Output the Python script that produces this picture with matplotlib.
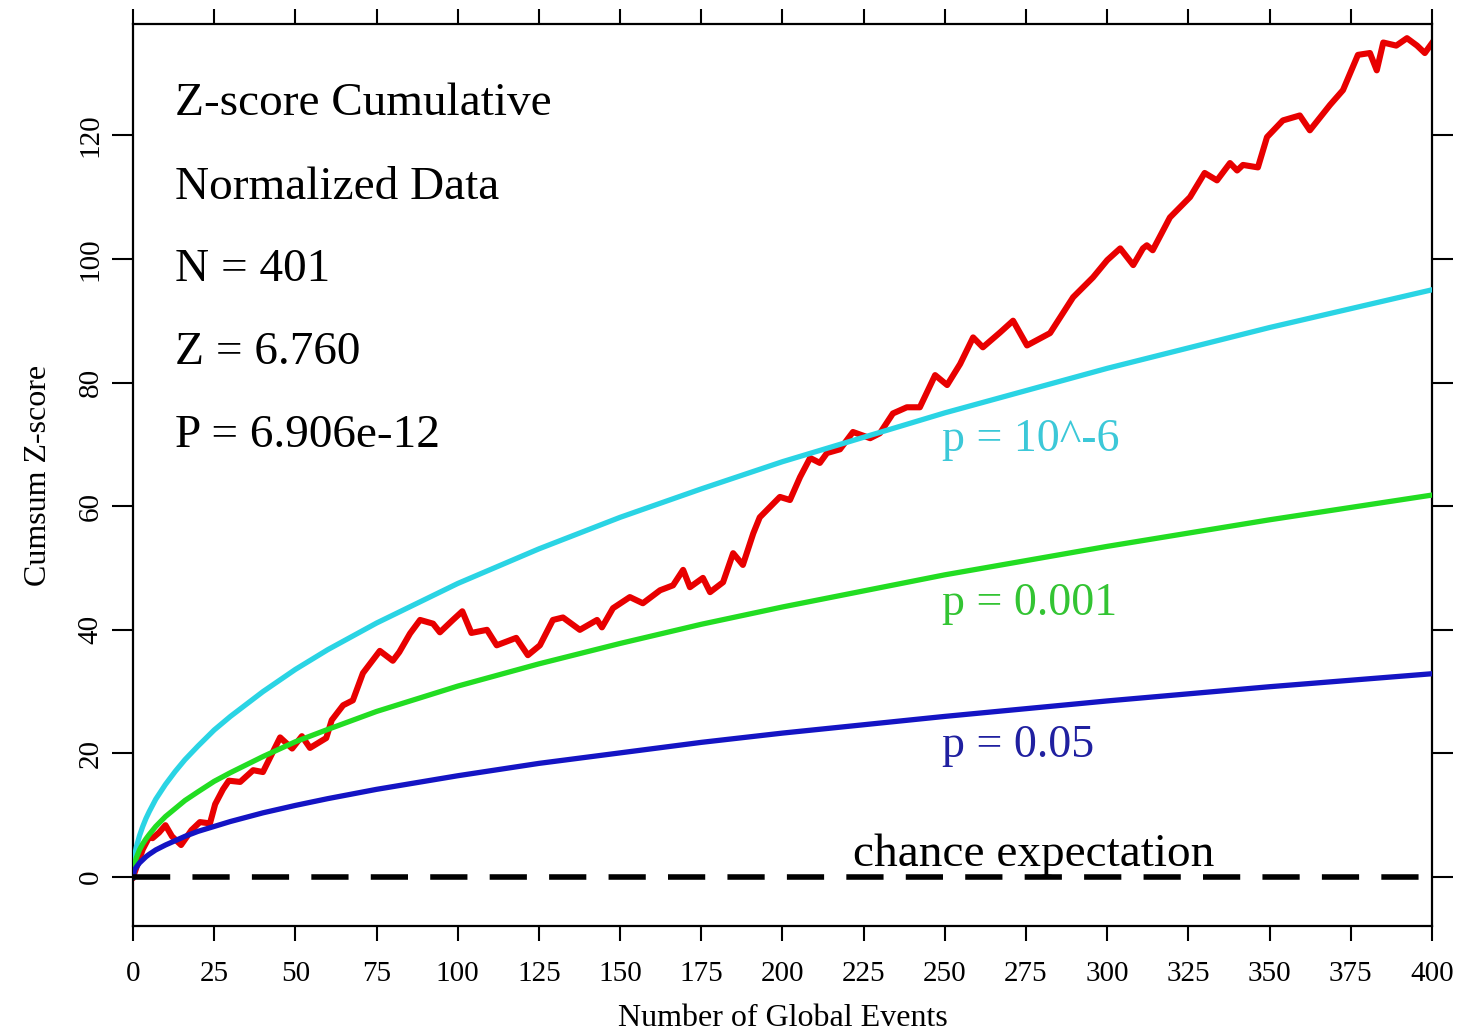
import numpy as np
import matplotlib.pyplot as plt

plt.rcParams['font.family'] = ['Liberation Serif', 'DejaVu Serif']

# cumulative z-score (red trace)
red_x = [0, 3, 5, 6, 8, 10, 12, 14.8, 18, 20.6, 23.7, 25.3, 27.7, 29.5, 33, 37, 40,
         45.3, 49, 52, 54.5, 59.5, 61.2, 64.7, 67.7, 70.8, 76, 80, 82, 85.3, 88.4,
         92.4, 94.5, 98.5, 101.4, 104.2, 109, 112, 118, 121.6, 125.3, 129.3, 132.4,
         137.6, 142.9, 144.4, 147.8, 153, 157, 162.3, 166.3, 169.4, 171.5, 175.5,
         177.7, 181.7, 184.8, 187.8, 191, 193, 199.2, 202.3, 205.4, 208.5, 211.5,
         213.7, 217.7, 221.7, 227, 230, 234, 238.3, 242.3, 247, 250.7, 254.7, 258.7,
         261.7, 267, 271, 275.3, 282.4, 289.5, 295.6, 300, 304, 308, 311, 312.2,
         314, 319.3, 325.5, 330, 333.8, 337.8, 340, 341.8, 346.4, 349.2, 354.1,
         359.3, 362.4, 368.6, 372.6, 377.2, 380.9, 383, 385, 389, 392.3, 395.4,
         397.8, 400]
red_y = [0, 4.5, 6.5, 6.3, 7.2, 8.4, 6.6, 5.2, 7.6, 8.9, 8.7, 11.8, 14.2, 15.6, 15.4,
         17.3, 17.0, 22.6, 20.8, 22.8, 20.9, 22.5, 25.4, 27.8, 28.6, 33.0, 36.6, 35.0,
         36.4, 39.4, 41.6, 41.0, 39.6, 41.6, 43.0, 39.5, 40.0, 37.5, 38.7, 35.9, 37.5,
         41.6, 42.0, 40.0, 41.6, 40.4, 43.5, 45.3, 44.3, 46.4, 47.2, 49.7, 46.9, 48.4,
         46.1, 47.7, 52.4, 50.5, 55.6, 58.2, 61.5, 61.0, 64.7, 67.8, 67.0, 68.6, 69.2,
         72.0, 71.0, 71.8, 75.0, 76.0, 76.0, 81.2, 79.6, 83.0, 87.3, 85.7, 88.1, 90.0,
         86.0, 88.0, 93.8, 97.0, 99.8, 101.7, 99.0, 101.7, 102.2, 101.4, 106.7, 110.0,
         113.9, 112.7, 115.5, 114.3, 115.2, 114.8, 119.7, 122.4, 123.2, 120.8, 124.9,
         127.3, 133.0, 133.3, 130.5, 135.0, 134.5, 135.7, 134.5, 133.3, 134.9]

# significance envelopes, read at sample points
env_x = [0, 0.5, 1, 2, 3, 4, 5, 7, 10, 13, 16, 20, 25, 30, 40, 50, 60, 75, 100,
         125, 150, 175, 200, 250, 300, 350, 400]
p05_y = [0, 1.2, 1.6, 2.3, 2.8, 3.3, 3.7, 4.4, 5.2, 5.9, 6.6, 7.4, 8.2, 9.0, 10.4,
         11.6, 12.7, 14.2, 16.4, 18.4, 20.1, 21.8, 23.3, 26.0, 28.5, 30.8, 32.9]
p001_y = [0, 2.2, 3.1, 4.4, 5.4, 6.2, 6.9, 8.2, 9.8, 11.1, 12.4, 13.8, 15.5, 16.9,
          19.5, 21.9, 23.9, 26.8, 30.9, 34.5, 37.8, 40.9, 43.7, 48.9, 53.5, 57.8,
          61.8]
p1e6_y = [0, 3.4, 4.8, 6.7, 8.2, 9.5, 10.6, 12.6, 15.0, 17.1, 19.0, 21.2, 23.8,
          26.0, 30.0, 33.6, 36.8, 41.1, 47.5, 53.1, 58.2, 62.8, 67.2, 75.1, 82.3,
          88.9, 95.0]

info_lines = ['Z-score Cumulative', 'Normalized Data', 'N = 401', 'Z = 6.760',
              'P = 6.906e-12']

fig = plt.figure(figsize=(14.6, 10.33), dpi=100)
ax = fig.add_axes([0.0911, 0.1036, 0.8897, 0.8732])

ax.plot(red_x, red_y, color='#e80000', lw=4.4, zorder=2)
ax.plot(env_x, p1e6_y, color='#2ad4e4', lw=3.8, zorder=3)
ax.plot(env_x, p001_y, color='#22dd22', lw=3.8, zorder=3)
ax.plot(env_x, p05_y, color='#1414c4', lw=3.8, zorder=3)
ax.plot([0, 400], [0, 0], color='black', lw=4, dashes=(6.7, 4), zorder=4)

ax.text(249, 70.7, 'p = 10^-6', color='#3cc8d8', fontsize=33, va='center')
ax.text(249, 44.3, 'p = 0.001', color='#33c433', fontsize=33, va='center')
ax.text(249, 21.3, 'p = 0.05', color='#2020a0', fontsize=33, va='center')
ax.text(221.7, 1.8, 'chance expectation', color='black', fontsize=34, va='baseline')

ys = [0.912, 0.818, 0.727, 0.636, 0.544]
for t, yy in zip(info_lines, ys):
    ax.text(0.032, yy, t, transform=ax.transAxes, fontsize=34, va='center')

ax.set_xlim(0, 400)
ax.set_ylim(-7.9, 138)
ax.set_xticks(np.arange(0, 401, 25))
ax.set_yticks(np.arange(0, 121, 20))
ax.tick_params(axis='x', direction='out', length=10.5, width=1.5, labelsize=21,
               top=True, pad=15)
ax.tick_params(axis='y', direction='out', length=15, width=1.5, labelsize=21,
               right=True, labelrotation=90, pad=6)
for lab in ax.get_yticklabels():
    lab.set_va('center')
for s in ax.spines.values():
    s.set_linewidth(1.6)

ax.set_xlabel('Number of Global Events', fontsize=23, labelpad=12)
ax.set_ylabel('Cumsum Z-score', fontsize=23, labelpad=18)

fig.savefig('out.png', dpi=100)
